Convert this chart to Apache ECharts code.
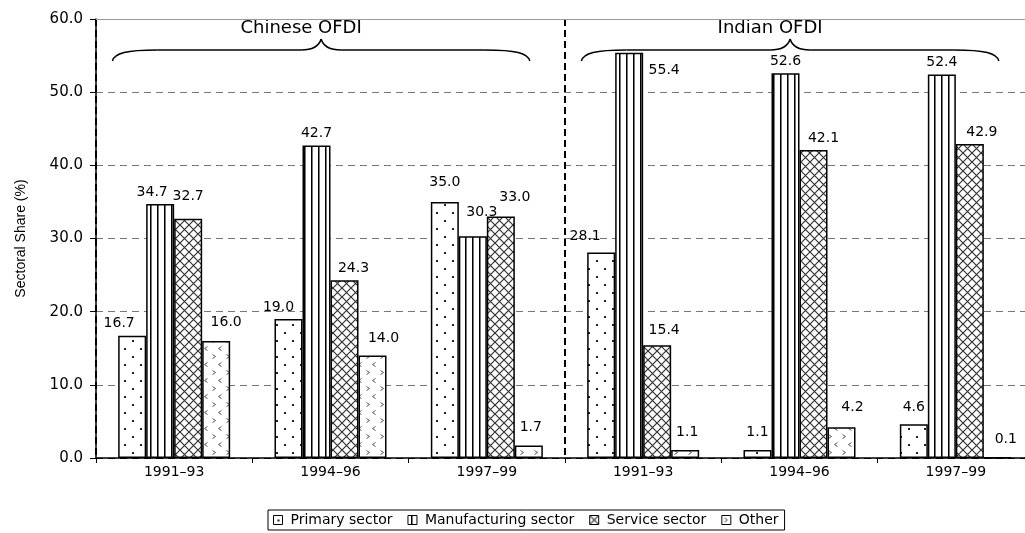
<!DOCTYPE html>
<html>
<head>
<meta charset="utf-8">
<script src="https://cdn.jsdelivr.net/npm/echarts@6/dist/echarts.min.js"></script>
<style>
  html, body { margin: 0; padding: 0; background: #fff; }
  #chart { width: 1025px; height: 533px; }
</style>
</head>
<body>
<div id="chart"></div>
<script>
// Sectoral composition of Chinese and Indian outward FDI, 1991-99 (%)
const periods = ['1991–93', '1994–96', '1997–99', '1991–93', '1994–96', '1997–99'];
const groups = ['Chinese OFDI', 'Indian OFDI'];
const sectorNames = ['Primary sector', 'Manufacturing sector', 'Service sector', 'Other'];

const primary       = [16.7, 19.0, 35.0, 28.1, 1.1, 4.6];
const manufacturing = [34.7, 42.7, 30.3, 55.4, 52.6, 52.4];
const service       = [32.7, 24.3, 33.0, 15.4, 42.1, 42.9];
const other         = [16.0, 14.0, 1.7, 1.1, 4.2, 0.1];

const yTicks = [0, 10, 20, 30, 40, 50, 60];

// Small nudges [dx, dy] for value labels so neighbours do not collide
const primaryLabelShift       = [[-13, 0], [-10, 0], [0, -8], [-16, -4], [0, -6], [0, -5]];
const manufacturingLabelShift = [[-8, 0], [0, 0], [9, -12], [35, 30], [0, 0], [0, 0]];
const serviceLabelShift       = [[0, -10], [9, 0], [14, -7], [7, -3], [10, 0], [12, 0]];
const otherLabelShift         = [[10, -7], [11, -5], [2, -6], [2, -6], [11, -8], [8, -6]];

const FONT = "'DejaVu Sans', Verdana, sans-serif";

// ---- monochrome fill patterns ----
function makePattern(w, h, draw) {
  const c = document.createElement('canvas');
  c.width = w; c.height = h;
  const ctx = c.getContext('2d');
  ctx.fillStyle = '#fff';
  ctx.fillRect(0, 0, w, h);
  draw(ctx, w, h);
  return { image: c, repeat: 'repeat' };
}
const dotFill = makePattern(16, 16, (ctx) => {
  ctx.fillStyle = '#222';
  ctx.fillRect(4, 4, 2, 2);
  ctx.fillRect(12, 12, 2, 2);
});
const stripeFill = makePattern(7, 4, (ctx, w, h) => {
  ctx.fillStyle = '#000';
  ctx.fillRect(3, 0, 1, h);
  ctx.fillStyle = '#777';
  ctx.fillRect(4, 0, 1, h);
});
const hatchFill = makePattern(9, 9, (ctx) => {
  ctx.strokeStyle = '#333';
  ctx.lineWidth = 1.2;
  ctx.beginPath();
  ctx.moveTo(-1, -1); ctx.lineTo(10, 10);
  ctx.moveTo(10, -1); ctx.lineTo(-1, 10);
  ctx.stroke();
});
const chevronFill = makePattern(14, 16, (ctx) => {
  ctx.strokeStyle = '#555';
  ctx.lineWidth = 1;
  ctx.beginPath();
  ctx.moveTo(2.5, 2.5); ctx.lineTo(5.5, 4.5); ctx.lineTo(2.5, 6.5);
  ctx.moveTo(11.5, 10.5); ctx.lineTo(8.5, 12.5); ctx.lineTo(11.5, 14.5);
  ctx.stroke();
});

function barSeries(name, values, shifts, fill) {
  return {
    name: name,
    type: 'bar',
    xAxisIndex: 0,
    barWidth: 28,
    barGap: '0%',
    itemStyle: { color: fill, borderColor: '#000', borderWidth: 1.5 },
    emphasis: { disabled: true },
    label: {
      show: true,
      position: 'top',
      distance: 5,
      color: '#000',
      fontFamily: FONT,
      fontSize: 14,
      formatter: (p) => p.value.toFixed(1)
    },
    data: values.map((v, i) => ({ value: v, label: { offset: shifts[i] } }))
  };
}

const chart = echarts.init(document.getElementById('chart'), null, { renderer: 'canvas' });

chart.setOption({
  animation: false,
  backgroundColor: '#fff',
  // the plot area runs a little past the right edge of the canvas
  grid: { left: 96, width: 938, top: 19, bottom: 75, outerBoundsMode: 'none', containLabel: false },
  legend: {
    data: sectorNames,
    left: 268,
    top: 510,
    orient: 'horizontal',
    icon: 'rect',
    itemWidth: 9,
    itemHeight: 9,
    itemGap: 15,
    padding: [3, 6, 3, 5],
    borderColor: '#000',
    borderWidth: 1,
    backgroundColor: '#fff',
    selectedMode: false,
    textStyle: { color: '#000', fontFamily: FONT, fontSize: 14, padding: [0, 0, 0, 3] },
    itemStyle: { borderColor: '#000', borderWidth: 1 }
  },
  xAxis: [
    {
      type: 'category',
      data: periods,
      position: 'bottom',
      axisLine: { show: true, lineStyle: { color: '#000', width: 1.5 } },
      axisTick: { show: true, length: 5, inside: false, lineStyle: { color: '#000', width: 1 } },
      axisLabel: { color: '#000', fontFamily: FONT, fontSize: 14, margin: 7, interval: 0 },
      splitLine: { show: false }
    },
    {
      type: 'category',
      data: groups,
      position: 'top',
      axisLine: { show: true, onZero: false, lineStyle: { color: '#999', width: 1 } },
      axisTick: { show: false },
      axisLabel: { show: false },
      splitLine: { show: true, interval: 0, lineStyle: { color: '#000', width: 2, type: [7, 4] } }
    }
  ],
  yAxis: {
    type: 'value',
    min: yTicks[0],
    max: yTicks[yTicks.length - 1],
    interval: yTicks[1] - yTicks[0],
    name: 'Sectoral Share (%)',
    nameLocation: 'middle',
    nameRotate: 90,
    nameGap: 68,
    nameTextStyle: { color: '#000', fontFamily: "'Liberation Sans', Arial, sans-serif", fontSize: 14 },
    axisLine: { show: true, lineStyle: { color: '#000', width: 1.5 } },
    axisTick: { show: true, length: 6, inside: false, lineStyle: { color: '#000', width: 1 } },
    axisLabel: { color: '#000', fontFamily: FONT, fontSize: 15, margin: 13, formatter: (v) => v.toFixed(1) },
    splitLine: {
      show: true,
      lineStyle: {
        color: ['#000', '#777', '#777', '#777', '#777', '#777', 'transparent'],
        width: 1,
        type: [7, 5]
      }
    }
  },
  series: [
    barSeries(sectorNames[0], primary, primaryLabelShift, dotFill),
    barSeries(sectorNames[1], manufacturing, manufacturingLabelShift, stripeFill),
    barSeries(sectorNames[2], service, serviceLabelShift, hatchFill),
    barSeries(sectorNames[3], other, otherLabelShift, chevronFill)
  ]
});

// ---- group braces with titles, placed from the axis scales ----
function braceGraphics() {
  const band = chart.convertToPixel({ xAxisIndex: 0 }, 1) - chart.convertToPixel({ xAxisIndex: 0 }, 0);
  const top = chart.convertToPixel({ yAxisIndex: 0 }, yTicks[yTicks.length - 1]);
  const stroke = { fill: null, stroke: '#000', lineWidth: 1.5 };
  const out = [];
  const curve = (x1, y1, c1x, c1y, c2x, c2y, x2, y2) => ({
    type: 'bezierCurve', silent: true, style: stroke,
    shape: { x1: x1, y1: y1, cpx1: c1x, cpy1: c1y, cpx2: c2x, cpy2: c2y, x2: x2, y2: y2 }
  });
  const seg = (x1, y1, x2, y2) => ({
    type: 'line', silent: true, style: stroke,
    shape: { x1: x1, y1: y1, x2: x2, y2: y2 }
  });
  groups.forEach((g) => {
    const gc = chart.convertToPixel({ xAxisIndex: 1 }, g);
    const tip = gc - 0.06 * band;
    const half = 1.335 * band;
    const x0 = tip - half, x1 = tip + half;
    const yEnd = top + 42, yFlat = top + 31, yTip = top + 20;
    out.push(curve(x0, yEnd, x0 + 2, yFlat + 3, x0 + 14, yFlat, x0 + 45, yFlat));
    out.push(seg(x0 + 45, yFlat, tip - 20, yFlat));
    out.push(curve(tip - 20, yFlat, tip - 8, yFlat, tip - 2, yFlat - 4, tip, yTip));
    out.push(curve(tip, yTip, tip + 2, yFlat - 4, tip + 8, yFlat, tip + 20, yFlat));
    out.push(seg(tip + 20, yFlat, x1 - 45, yFlat));
    out.push(curve(x1 - 45, yFlat, x1 - 14, yFlat, x1 - 2, yFlat + 3, x1, yEnd));
    out.push({
      type: 'text',
      x: tip - 20,
      y: top + 9,
      silent: true,
      style: {
        text: g,
        fill: '#000',
        font: "18px 'DejaVu Sans', Verdana, sans-serif",
        align: 'center',
        verticalAlign: 'middle'
      }
    });
  });
  return out;
}
chart.setOption({ graphic: braceGraphics() });
</script>
</body>
</html>
